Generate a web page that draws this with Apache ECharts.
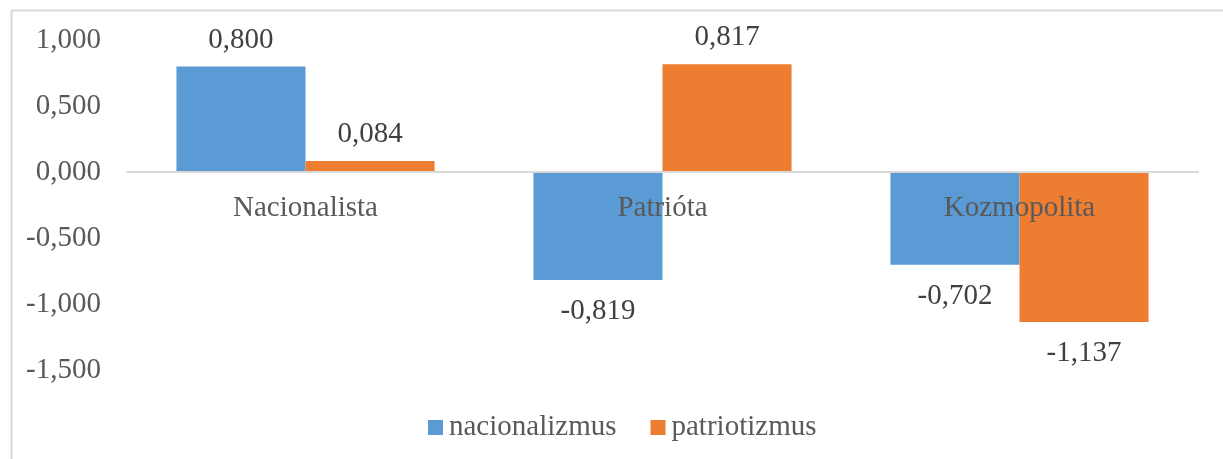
<!DOCTYPE html>
<html>
<head>
<meta charset="utf-8">
<script src="https://cdn.jsdelivr.net/npm/echarts@6/dist/echarts.min.js"></script>
<style>html,body{margin:0;padding:0;background:#fff;}#c{width:1223px;height:459px;}</style>
</head>
<body>
<div id="c"></div>
<script>
var categories = ['Nacionalista', 'Patrióta', 'Kozmopolita'];
var nacionalizmus = [0.800, -0.819, -0.702];
var patriotizmus = [0.084, 0.817, -1.137];
var seriesNames = ['nacionalizmus', 'patriotizmus'];

var FONT = '"Liberation Serif", "Times New Roman", serif';
var FS = 29;
function fmt(v) { return Number(v).toFixed(3).replace('.', ','); }
function items(arr) {
  return arr.map(function (v) {
    return { value: v, label: { position: v < 0 ? 'bottom' : 'top', distance: v < 0 ? 17 : 12 } };
  });
}
var labelStyle = {
  show: true, fontFamily: FONT, fontSize: FS, color: '#404040',
  formatter: function (p) { return fmt(p.value); }
};

var GRID_TOP = 40, GRID_BOTTOM = 89, Y_MIN = -1.5, Y_MAX = 1.0;
var plotH = 459 - GRID_TOP - GRID_BOTTOM;
var zeroOffset = -plotH * (0 - Y_MIN) / (Y_MAX - Y_MIN);

var chart = echarts.init(document.getElementById('c'), null, { renderer: 'canvas' });
chart.setOption({
  animation: false,
  backgroundColor: '#fff',
  graphic: [{
    type: 'rect', left: 9, top: 8, silent: true, z: -1,
    shape: { width: 1300, height: 500 },
    style: { fill: 'none', stroke: '#D9D9D9', lineWidth: 2 }
  }],
  grid: { left: 127, right: 25, top: GRID_TOP, bottom: GRID_BOTTOM },
  legend: {
    left: 423, top: 408,
    itemWidth: 15, itemHeight: 15, itemGap: 34,
    icon: 'rect',
    textStyle: { fontFamily: FONT, fontSize: FS, color: '#595959', padding: [0, 0, 0, 1] },
    data: seriesNames
  },
  xAxis: {
    type: 'category', data: categories, position: 'bottom',
    offset: zeroOffset,
    axisLine: { onZero: false, lineStyle: { color: '#D9D9D9', width: 2 } },
    axisTick: { show: false },
    axisLabel: { fontFamily: FONT, fontSize: FS, color: '#595959', margin: 22 },
    z: 10
  },
  yAxis: {
    type: 'value', min: Y_MIN, max: Y_MAX, interval: 0.5,
    splitLine: { show: false },
    axisLine: { show: false }, axisTick: { show: false },
    axisLabel: { fontFamily: FONT, fontSize: FS, color: '#595959', margin: 26, formatter: fmt }
  },
  series: [
    { name: seriesNames[0], type: 'bar', data: items(nacionalizmus), barGap: '0%', barCategoryGap: '27.7%',
      itemStyle: { color: '#5B9BD5' }, label: labelStyle },
    { name: seriesNames[1], type: 'bar', data: items(patriotizmus), barGap: '0%', barCategoryGap: '27.7%',
      itemStyle: { color: '#ED7D31' }, label: labelStyle }
  ]
});
</script>
</body>
</html>
